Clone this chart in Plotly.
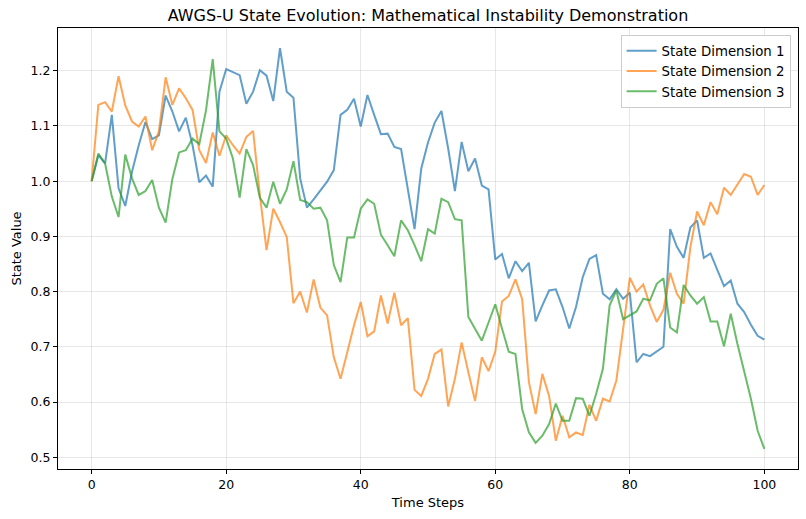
import plotly.graph_objects as go

steps = list(range(101))

dim1 = [1.0, 1.047, 1.032, 1.12, 0.987, 0.955, 1.017, 1.065, 1.107, 1.076,
        1.083, 1.155, 1.126, 1.09, 1.115, 1.065, 0.998, 1.01, 0.99, 1.162,
        1.203, 1.198, 1.192, 1.14, 1.162, 1.201, 1.191, 1.145, 1.241, 1.162,
        1.151, 1.005, 0.952, 0.967, 0.984, 0.999, 1.02, 1.12, 1.129, 1.149,
        1.099, 1.156, 1.12, 1.085, 1.086, 1.062, 1.058, 0.987, 0.913, 1.023,
        1.07, 1.106, 1.127, 1.059, 0.982, 1.071, 1.018, 1.041, 0.992, 0.985,
        0.858, 0.868, 0.824, 0.855, 0.837, 0.852, 0.746, 0.775, 0.802, 0.804,
        0.772, 0.733, 0.772, 0.826, 0.859, 0.866, 0.796, 0.786, 0.804, 0.787,
        0.798, 0.672, 0.687, 0.683, 0.691, 0.70, 0.913, 0.881, 0.861, 0.916,
        0.929, 0.861, 0.869, 0.838, 0.81, 0.82, 0.778, 0.763, 0.74, 0.72,
        0.713]

dim2 = [1.0, 1.138, 1.143, 1.126, 1.19, 1.137, 1.108, 1.099, 1.117, 1.056,
        1.09, 1.188, 1.138, 1.168, 1.15, 1.129, 1.056, 1.033, 1.088, 1.046,
        1.083, 1.065, 1.05, 1.08, 1.091, 0.975, 0.875, 0.95, 0.926, 0.899,
        0.779, 0.8, 0.762, 0.822, 0.771, 0.757, 0.681, 0.642, 0.69, 0.739,
        0.781, 0.719, 0.728, 0.793, 0.742, 0.798, 0.739, 0.752, 0.622, 0.611,
        0.642, 0.687, 0.695, 0.592, 0.642, 0.708, 0.654, 0.602, 0.681, 0.656,
        0.691, 0.782, 0.792, 0.822, 0.786, 0.636, 0.578, 0.651, 0.611, 0.53,
        0.575, 0.536, 0.545, 0.54, 0.595, 0.566, 0.606, 0.601, 0.639, 0.733,
        0.825, 0.8, 0.813, 0.775, 0.745, 0.767, 0.834, 0.796, 0.778, 0.88,
        0.945, 0.92, 0.962, 0.94, 0.988, 0.975, 0.993, 1.013, 1.008, 0.975,
        0.993]

dim3 = [1.0, 1.05, 1.032, 0.972, 0.935, 1.048, 1.005, 0.975, 0.982, 1.002,
        0.952, 0.925, 1.004, 1.052, 1.056, 1.077, 1.067, 1.128, 1.221, 1.09,
        1.077, 1.041, 0.97, 1.058, 1.029, 0.97, 0.952, 0.999, 0.959, 0.985,
        1.036, 0.966, 0.962, 0.95, 0.952, 0.929, 0.848, 0.817, 0.898, 0.898,
        0.95, 0.967, 0.959, 0.903, 0.884, 0.864, 0.929, 0.911, 0.884, 0.855,
        0.913, 0.905, 0.968, 0.962, 0.931, 0.929, 0.754, 0.733, 0.711, 0.744,
        0.777, 0.733, 0.691, 0.687, 0.587, 0.545, 0.526, 0.539, 0.56, 0.597,
        0.566, 0.566, 0.607, 0.606, 0.575, 0.615, 0.66, 0.775, 0.802, 0.75,
        0.757, 0.764, 0.787, 0.784, 0.814, 0.824, 0.735, 0.726, 0.812, 0.793,
        0.778, 0.79, 0.746, 0.746, 0.701, 0.76, 0.705, 0.654, 0.606, 0.548,
        0.515]

series_names = ["State Dimension 1", "State Dimension 2", "State Dimension 3"]
colors = ["#1f77b4", "#ff7f0e", "#2ca02c"]

fig = go.Figure()
for name, vals, c in zip(series_names, [dim1, dim2, dim3], colors):
    fig.add_trace(go.Scatter(x=steps, y=vals, mode="lines", name=name,
                             line=dict(color=c, width=2), opacity=0.7))

font = "DejaVu Sans, sans-serif"
fig.update_layout(
    width=806, height=519,
    margin=dict(l=58, r=8, t=28, b=50),
    paper_bgcolor="white", plot_bgcolor="white",
    font=dict(family=font, size=12, color="black"),
    title=dict(text="AWGS-U State Evolution: Mathematical Instability Demonstration",
               xref="paper", x=0.5, xanchor="center", y=0.97, yanchor="middle",
               font=dict(size=16, family=font, color="black")),
    legend=dict(x=0.99, xanchor="right", y=0.985, yanchor="top",
                bgcolor="rgba(255,255,255,0.85)", bordercolor="#cccccc",
                borderwidth=1, itemwidth=30, tracegroupgap=0,
                font=dict(size=13.3, family=font)),
    xaxis=dict(range=[-5, 105], tickvals=[0, 20, 40, 60, 80, 100],
               showgrid=True, gridcolor="rgba(176,176,176,0.3)", gridwidth=1,
               showline=True, linecolor="black", linewidth=1, mirror=True,
               ticks="outside", ticklen=4, tickcolor="black", zeroline=False,
               title=dict(text="Time Steps", font=dict(size=13), standoff=6),
               tickfont=dict(size=12.5)),
    yaxis=dict(range=[0.4787, 1.2773], tickvals=[0.5, 0.6, 0.7, 0.8, 0.9, 1.0, 1.1, 1.2],
               tickformat=".1f",
               showgrid=True, gridcolor="rgba(176,176,176,0.3)", gridwidth=1,
               showline=True, linecolor="black", linewidth=1, mirror=True,
               ticks="outside", ticklen=4, tickcolor="black", zeroline=False,
               title=dict(text="State Value", font=dict(size=13), standoff=6),
               tickfont=dict(size=12.5)),
)

fig.write_html("out.html")
